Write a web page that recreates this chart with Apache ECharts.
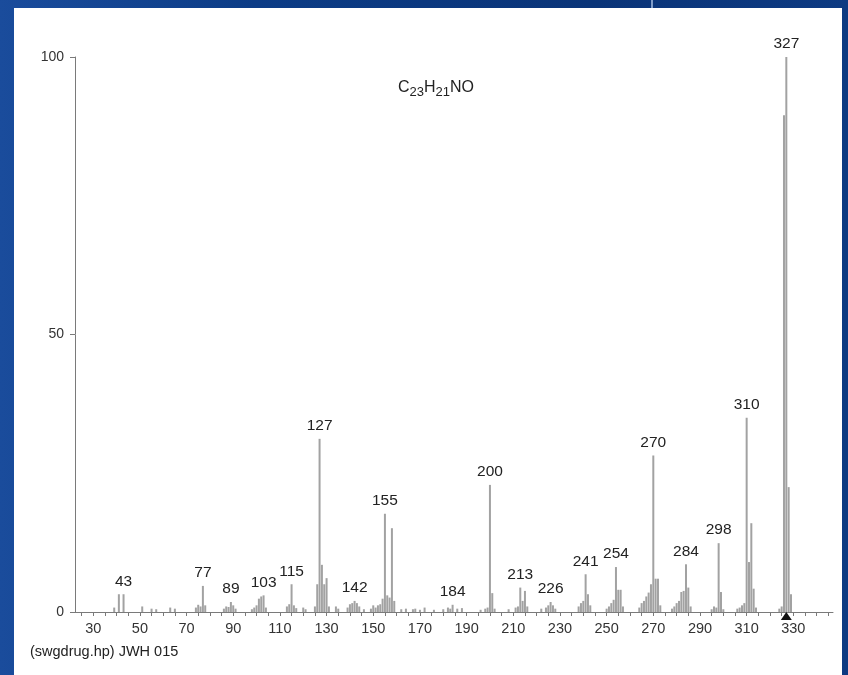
<!DOCTYPE html>
<html>
<head>
<meta charset="utf-8">
<script src="https://cdn.jsdelivr.net/npm/echarts@6/dist/echarts.min.js"></script>
<style>
  html, body { margin: 0; padding: 0; }
  body {
    width: 848px; height: 675px; overflow: hidden; position: relative;
    background: linear-gradient(90deg, #1a4c9c 0%, #0c3c86 30%, #0a3478 70%, #0d3a82 100%);
  }
  #panel { position: absolute; left: 14px; top: 8px; width: 828px; height: 667px; background: #fff; }
  #streak { position: absolute; left: 651px; top: 0; width: 2px; height: 8px; background: #7f9cc9; }
  #main { position: absolute; left: 0; top: 0; width: 848px; height: 675px; }
</style>
</head>
<body>
<div id="panel"></div>
<div id="streak"></div>
<div id="main"></div>
<script>
// m/z and relative abundance
const mz = [39, 41, 43, 51, 55, 57, 63, 65, 74, 75, 76, 77, 78, 86, 87, 88, 89, 90, 91,
  98, 99, 100, 101, 102, 103, 104, 113, 114, 115, 116, 117, 120, 121, 125, 126, 127, 128, 129, 130, 131,
  134, 135, 139, 140, 141, 142, 143, 144, 146, 149, 150, 151, 152, 153, 154, 155, 156, 157, 158, 159,
  162, 164, 167, 168, 170, 172, 176, 180, 182, 183, 184, 186, 188, 196, 198, 199, 200, 201, 202,
  208, 211, 212, 213, 214, 215, 216, 222, 224, 225, 226, 227, 228, 238, 239, 240, 241, 242, 243,
  250, 251, 252, 253, 254, 255, 256, 257, 264, 265, 266, 267, 268, 269, 270, 271, 272, 273,
  278, 279, 280, 281, 282, 283, 284, 285, 286, 295, 296, 297, 298, 299, 300,
  306, 307, 308, 309, 310, 311, 312, 313, 314, 324, 325, 326, 327, 328, 329];
const abundance = [0.8, 3.2, 3.2, 1.0, 0.6, 0.5, 0.8, 0.6, 0.8, 1.3, 1.0, 4.7, 1.2, 0.6, 1.0, 0.9, 1.8, 1.2, 0.6,
  0.5, 0.8, 1.2, 2.4, 2.8, 3.0, 0.8, 1.0, 1.4, 5.0, 1.2, 0.7, 0.8, 0.5, 1.0, 5.0, 31.2, 8.5, 5.0, 6.1, 1.0,
  1.0, 0.6, 0.8, 1.4, 1.6, 2.0, 1.6, 1.0, 0.5, 0.6, 1.2, 0.8, 1.2, 1.4, 2.4, 17.7, 3.0, 2.6, 15.1, 2.0,
  0.5, 0.6, 0.5, 0.6, 0.4, 0.8, 0.4, 0.5, 0.8, 0.6, 1.3, 0.6, 0.7, 0.4, 0.6, 0.8, 22.9, 3.4, 0.6,
  0.5, 0.8, 1.0, 4.4, 2.0, 3.8, 1.0, 0.6, 0.8, 1.2, 1.8, 1.2, 0.6, 1.0, 1.6, 2.0, 6.8, 3.2, 1.2,
  0.6, 1.0, 1.6, 2.2, 8.1, 4.0, 4.0, 1.0, 0.8, 1.6, 2.0, 2.8, 3.5, 5.0, 28.2, 6.0, 6.0, 1.2,
  0.6, 1.0, 1.6, 2.0, 3.6, 3.8, 8.6, 4.4, 1.0, 0.5, 1.0, 0.8, 12.4, 3.6, 0.5,
  0.6, 0.8, 1.2, 1.6, 35.0, 9.0, 16.0, 4.2, 0.8, 0.6, 1.0, 89.5, 100, 22.5, 3.2];
// peaks carrying a number label
const labelled = [43, 77, 89, 103, 115, 127, 142, 155, 184, 200, 213, 226, 241, 254, 270, 284, 298, 310, 327];
// tick labels on x
const xLabels = [30, 50, 70, 90, 110, 130, 150, 170, 190, 210, 230, 250, 270, 290, 310, 330];
const xTicks = [];
for (let v = 25; v <= 345; v += 5) xTicks.push(v);
const precursor = 327;

const font = 'Liberation Sans, Arial, sans-serif';

const chart = echarts.init(document.getElementById('main'), null, { renderer: 'canvas' });

const barData = mz.map(function (m, i) {
  const item = { value: [m, abundance[i]] };
  if (labelled.indexOf(m) >= 0) {
    item.label = { show: true };
  }
  return item;
});

const option = {
  animation: false,
  grid: { left: 75, right: 15, top: 57, bottom: 63 },
  xAxis: {
    type: 'value',
    min: 22.2,
    max: 347,
    axisLine: { show: true, onZero: false, lineStyle: { color: '#7a7a7a', width: 1 } },
    axisTick: { show: true, customValues: xTicks, length: 4, lineStyle: { color: '#7a7a7a' } },
    axisLabel: { customValues: xLabels, color: '#333', fontSize: 14.5, fontFamily: font, margin: 9 },
    splitLine: { show: false }
  },
  yAxis: {
    type: 'value',
    min: 0,
    max: 100,
    interval: 50,
    axisLine: { show: true, lineStyle: { color: '#7a7a7a', width: 1 } },
    axisTick: { show: true, length: 5, lineStyle: { color: '#7a7a7a' } },
    axisLabel: { color: '#333', fontSize: 14, fontFamily: font, margin: 11 },
    splitLine: { show: false }
  },
  series: [{
    type: 'bar',
    barWidth: 2,
    itemStyle: { color: '#a2a2a2' },
    label: {
      show: false,
      position: 'top',
      distance: 5,
      color: '#222',
      fontSize: 15.5,
      fontFamily: font,
      formatter: function (p) { return p.value[0]; }
    },
    data: barData,
    markPoint: {
      silent: true,
      symbol: 'triangle',
      symbolSize: [11, 8],
      symbolOffset: [0, 4],
      itemStyle: { color: '#111' },
      label: { show: false },
      data: [{ coord: [precursor, 0] }]
    }
  }],
  graphic: [
    {
      type: 'text',
      left: 398,
      top: 77,
      style: {
        text: 'C{s|23}H{s|21}NO',
        fontSize: 16,
        fontFamily: font,
        fill: '#222',
        lineHeight: 22,
        rich: {
          s: { fontSize: 13, fontFamily: font, fill: '#222', padding: [8, 0, 0, 0], lineHeight: 22 }
        }
      }
    },
    {
      type: 'text',
      left: 30,
      top: 644,
      style: {
        text: '(swgdrug.hp) JWH 015',
        fontSize: 14.5,
        fontFamily: font,
        fill: '#222'
      }
    }
  ]
};

chart.setOption(option);
</script>
</body>
</html>
